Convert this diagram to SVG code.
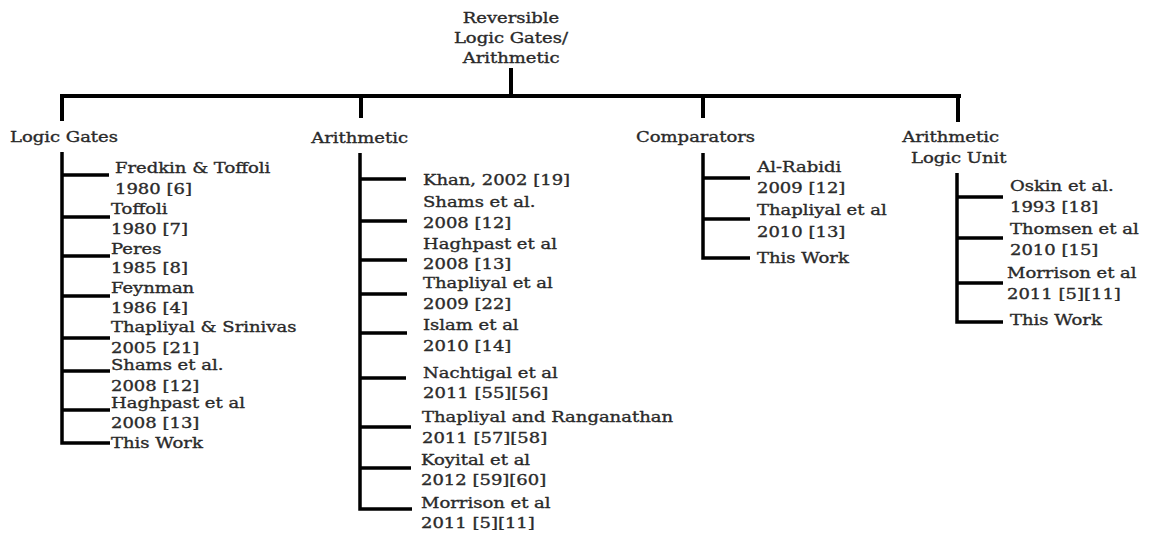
<svg xmlns="http://www.w3.org/2000/svg" width="1150" height="533" viewBox="0 0 1150 533">
<style>
text{font-family:"DejaVu Serif","Liberation Serif",serif;font-size:15px;fill:#2a2a2a;stroke:#2a2a2a;stroke-width:0.35;transform-box:fill-box;transform-origin:0 0;transform:scaleX(1.2)}
.mid{text-anchor:middle;transform-origin:50% 0}
.trunk{stroke:#000;stroke-width:4;fill:none}
.br{stroke:#000;stroke-width:3.5;fill:none}
</style>
<rect width="1150" height="533" fill="#fff"/>
<g id="connectors">
<path class="trunk" d="M511 68V96M60 96H961M62 94V121M361 94V118M703 94V118M958 94V122"/>
<path class="br" d="M62 152V443H110M62 175H109M62 217H110M62 256H110M62 296H110M62 338H110M62 371H110M62 410H110"/>
<path class="br" d="M360 153V509H412M360 179H406M360 221H407M360 260H407M360 294H407M360 333H407M360 378H406M360 427H411M360 468H411"/>
<path class="br" d="M703 153V258H750M703 178H750M703 219H750"/>
<path class="br" d="M957 173V322H1003M957 197H1003M957 238H1003M957 283H1003"/>
</g>
<g id="root">
<text class="mid" x="511" y="23">Reversible</text>
<text class="mid" x="511" y="43">Logic Gates/</text>
<text class="mid" x="511" y="63">Arithmetic</text>
</g>
<g id="logic-gates">
<text x="10" y="142">Logic Gates</text>
<text x="115" y="173">Fredkin &amp; Toffoli</text>
<text x="115" y="194">1980 [6]</text>
<text x="111" y="214">Toffoli</text>
<text x="111" y="234">1980 [7]</text>
<text x="111" y="254">Peres</text>
<text x="111" y="273">1985 [8]</text>
<text x="111" y="293">Feynman</text>
<text x="111" y="313">1986 [4]</text>
<text x="111" y="332">Thapliyal &amp; Srinivas</text>
<text x="111" y="353">2005 [21]</text>
<text x="111" y="370">Shams et al.</text>
<text x="111" y="391">2008 [12]</text>
<text x="111" y="408">Haghpast et al</text>
<text x="111" y="428">2008 [13]</text>
<text x="111" y="448">This Work</text>
</g>
<g id="arithmetic">
<text x="311" y="143">Arithmetic</text>
<text x="423" y="185">Khan, 2002 [19]</text>
<text x="423" y="207">Shams et al.</text>
<text x="423" y="228">2008 [12]</text>
<text x="423" y="249">Haghpast et al</text>
<text x="423" y="269">2008 [13]</text>
<text x="423" y="288">Thapliyal et al</text>
<text x="423" y="309">2009 [22]</text>
<text x="423" y="330">Islam et al</text>
<text x="423" y="351">2010 [14]</text>
<text x="423" y="378">Nachtigal et al</text>
<text x="423" y="398">2011 [55][56]</text>
<text x="422" y="422">Thapliyal and Ranganathan</text>
<text x="422" y="443">2011 [57][58]</text>
<text x="421" y="465">Koyital et al</text>
<text x="421" y="485">2012 [59][60]</text>
<text x="421" y="508">Morrison et al</text>
<text x="421" y="528">2011 [5][11]</text>
</g>
<g id="comparators">
<text x="636" y="142">Comparators</text>
<text x="757" y="172">Al-Rabidi</text>
<text x="757" y="193">2009 [12]</text>
<text x="757" y="215">Thapliyal et al</text>
<text x="757" y="237">2010 [13]</text>
<text x="757" y="263">This Work</text>
</g>
<g id="alu">
<text x="902" y="142">Arithmetic</text>
<text x="911" y="163">Logic Unit</text>
<text x="1010" y="191">Oskin et al.</text>
<text x="1010" y="212">1993 [18]</text>
<text x="1010" y="234">Thomsen et al</text>
<text x="1010" y="255">2010 [15]</text>
<text x="1007" y="278">Morrison et al</text>
<text x="1007" y="299">2011 [5][11]</text>
<text x="1010" y="325">This Work</text>
</g>
</svg>
